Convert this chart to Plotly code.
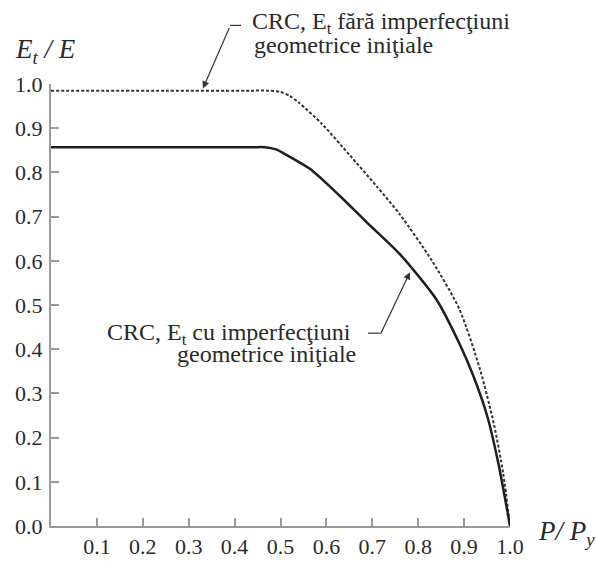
import plotly.graph_objects as go

# Data
p_fara = [0.0, 0.25, 0.44, 0.47, 0.50, 0.52, 0.54, 0.59, 0.65, 0.71, 0.76, 0.83, 0.89, 0.935, 0.965, 0.985, 1.0]
e_fara = [0.985, 0.985, 0.985, 0.985, 0.982, 0.973, 0.958, 0.91, 0.84, 0.768, 0.705, 0.60, 0.49, 0.353, 0.23, 0.12, 0.0]

p_cu = [0.0, 0.25, 0.44, 0.466, 0.49, 0.514, 0.564, 0.63, 0.688, 0.76, 0.84, 0.891, 0.92, 0.95, 0.975, 1.0]
e_cu = [0.857, 0.857, 0.857, 0.857, 0.852, 0.839, 0.808, 0.746, 0.687, 0.615, 0.512, 0.41, 0.34, 0.25, 0.14, 0.0]

y_ticks = [0.0, 0.1, 0.2, 0.3, 0.4, 0.5, 0.6, 0.7, 0.8, 0.9, 1.0]
y_labels = ["0.0", "0.1", "0.2", "0.3", "0.4", "0.5", "0.6", "0.7", "0.8", "0.9", "1.0"]
x_ticks = [0.1, 0.2, 0.3, 0.4, 0.5, 0.6, 0.7, 0.8, 0.9, 1.0]
x_labels = ["0.1", "0.2", "0.3", "0.4", "0.5", "0.6", "0.7", "0.8", "0.9", "1.0"]

FONT = "Liberation Serif"
AX = "#9a9a9a"
TXT = "#2a2a2a"

fig = go.Figure()
fig.add_trace(go.Scatter(x=p_fara, y=e_fara, mode="lines",
                         line=dict(color="#333333", width=2, dash="3px,2px",
                                   shape="spline", smoothing=0.7),
                         showlegend=False, hoverinfo="skip"))
fig.add_trace(go.Scatter(x=p_cu, y=e_cu, mode="lines",
                         line=dict(color="#1e1e1e", width=2.5,
                                   shape="spline", smoothing=0.7),
                         showlegend=False, hoverinfo="skip"))

fig.update_layout(
    width=596, height=571,
    margin=dict(l=51, r=86, t=84, b=29),
    paper_bgcolor="white", plot_bgcolor="white",
    font=dict(family=FONT, size=22, color=TXT),
    xaxis=dict(range=[0, 1.0], tickvals=x_ticks, ticktext=x_labels,
               showgrid=False, zeroline=False, showline=True, linecolor=AX, linewidth=2,
               ticks="inside", ticklen=8, tickcolor=AX, tickwidth=1.5,
               tickfont=dict(family=FONT, size=22, color=TXT)),
    yaxis=dict(range=[0, 1.0], tickvals=y_ticks, ticktext=y_labels,
               showgrid=False, zeroline=False, showline=True, linecolor=AX, linewidth=2,
               ticks="inside", ticklen=8, tickcolor=AX, tickwidth=1.5,
               ticklabelstandoff=2,
               tickfont=dict(family=FONT, size=22, color=TXT)),
)

def ptxt(x, y, text, xanchor, size=24):
    fig.add_annotation(xref="paper", yref="paper", x=x, y=y, text=text,
                       showarrow=False, xanchor=xanchor, yanchor="middle",
                       font=dict(family=FONT, size=size, color=TXT))

# axis titles
ptxt(-0.083, 1.0736, "<i>E<sub>t</sub> / E</i>", "left", size=27)
ptxt(1.057, -0.016, "<i>P/ P<sub>y</sub></i>", "left", size=27)

# labels
ptxt(0.4336, 1.137, "CRC, E<sub>t</sub> fără imperfecţiuni", "left")
ptxt(0.438, 1.089, "geometrice iniţiale", "left")
ptxt(0.658, 0.4338, "CRC, E<sub>t</sub> cu imperfecţiuni", "right")
ptxt(0.669, 0.390, "geometrice iniţiale", "right")

# leader arrows
fig.add_annotation(xref="x", yref="y", x=0.331, y=0.99, ax=27, ay=-62, text="",
                   showarrow=True, arrowhead=2, arrowsize=1.2, arrowwidth=1.2,
                   arrowcolor="#333333")
fig.add_annotation(xref="x", yref="y", x=0.782, y=0.574, ax=-30, ay=63, text="",
                   showarrow=True, arrowhead=2, arrowsize=1.2, arrowwidth=1.2,
                   arrowcolor="#333333")
fig.add_shape(type="line", xref="paper", yref="paper", x0=0.39, x1=0.414,
              y0=1.1325, y1=1.1325, line=dict(color="#333333", width=1.2))
fig.add_shape(type="line", xref="paper", yref="paper", x0=0.6906, x1=0.7168,
              y0=0.4363, y1=0.4363, line=dict(color="#333333", width=1.2))

fig.write_html("out.html")
